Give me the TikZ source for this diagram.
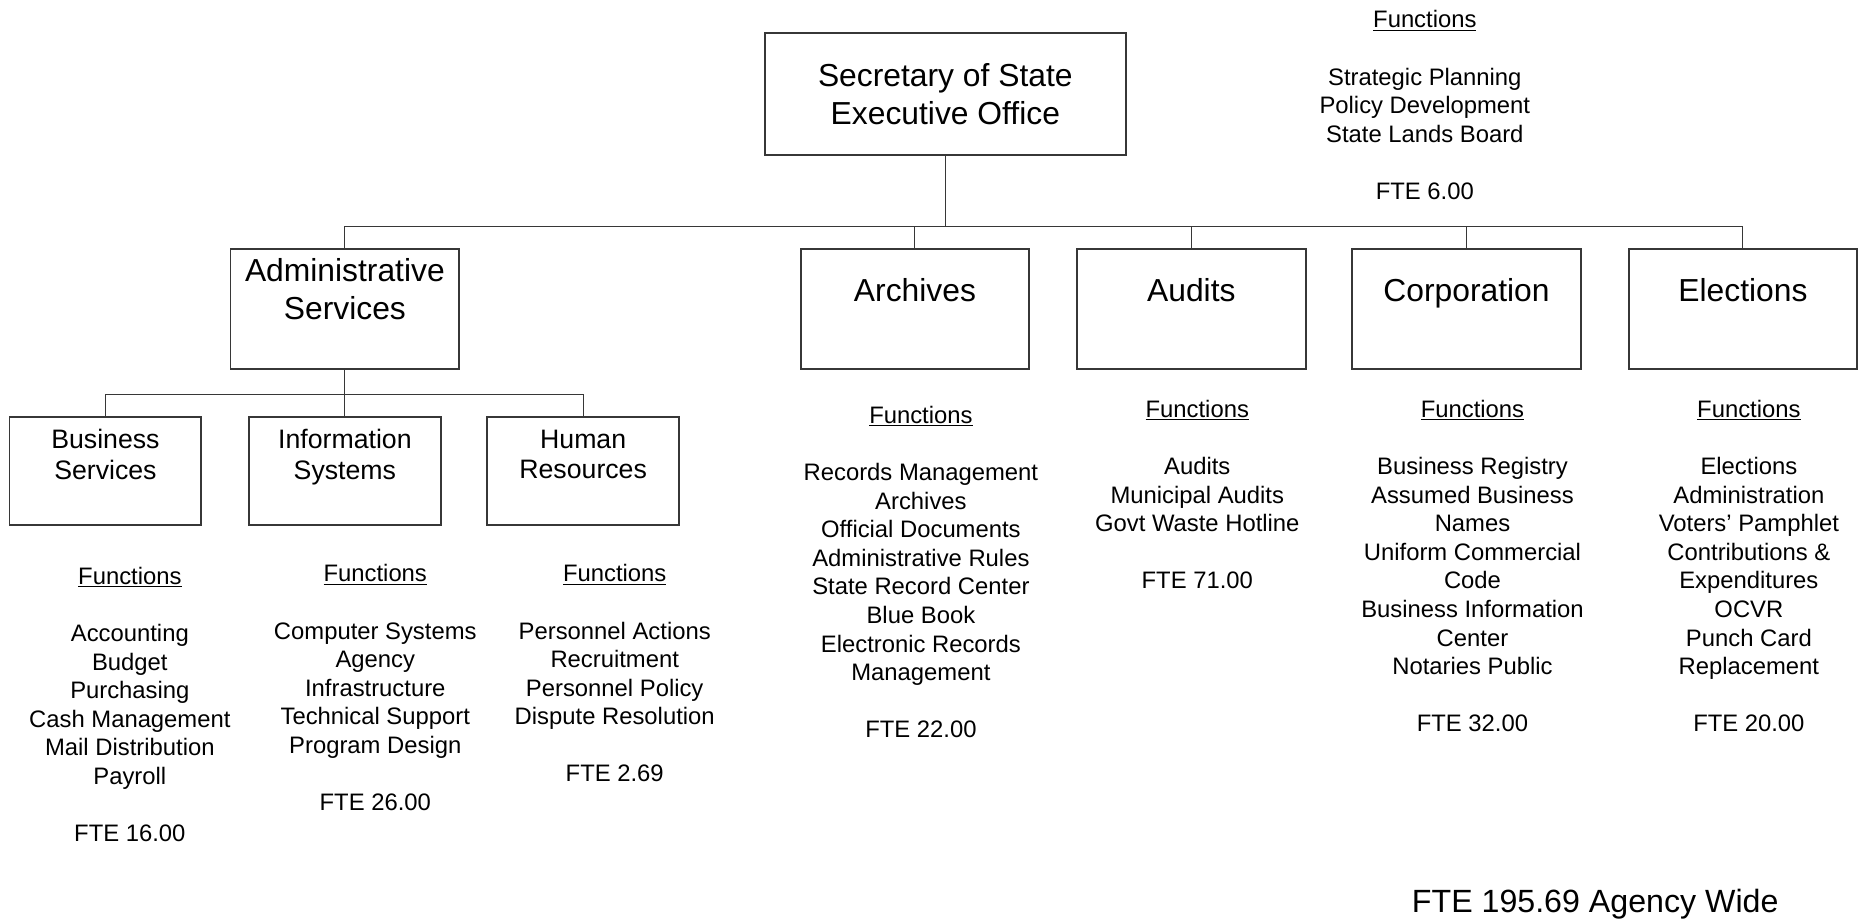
\documentclass[tikz,border=0pt]{standalone}
\usepackage{fontspec}
\setmainfont{Liberation Sans}
\usetikzlibrary{positioning}
\definecolor{linecol}{RGB}{55,55,55}
\newcommand{\fnhead}{\underline{Functions}}

\begin{document}
\begin{tikzpicture}[x=1pt, y=-1pt,
  unit/.style={draw=linecol, line width=1.6pt, minimum width=192pt,
               minimum height=101pt, inner sep=0pt},
  subunit/.style={unit, minimum width=161pt, minimum height=91pt},
  title/.style={align=center, inner sep=0pt, font=\fontsize{26.7}{32}\selectfont},
  onetitle/.style={title, text height=19.5pt, text depth=0pt},
  subtitle/.style={align=center, inner sep=0pt, text depth=0pt,
                   font=\fontsize{22.4}{25.5}\selectfont},
  duties/.style={align=center, inner sep=0pt, anchor=north,
                 font=\fontsize{20}{24}\selectfont},
  link/.style={draw=linecol, line width=0.9pt},
]
  \useasboundingbox (0,0) rectangle (1568,771);

  \node[unit, title, minimum width=303pt, minimum height=102pt] (sos) at (793.5,79)
        {Secretary of State\\Executive Office};

  \node[unit] (admin) at (289.5,259.5) {};
  \node[unit] (arch) at (768,259.5) {};
  \node[unit, right=38.4pt of arch] (audit) {};
  \node[unit, right=37.4pt of audit] (corp) {};
  \node[unit, right=38.4pt of corp] (elec) {};

  \node[title] (admin-t) at ([yshift=16.5pt]admin.center) {Administrative\\Services};
  \node[onetitle] (arch-t) at ([yshift=16.5pt]arch.center) {Archives};
  \node[onetitle] (audit-t) at ([yshift=16.5pt]audit.center) {Audits};
  \node[onetitle] (corp-t) at ([yshift=16.5pt]corp.center) {Corporation};
  \node[onetitle] (elec-t) at ([yshift=16.5pt]elec.center) {Elections};

  \node[subunit] (bus) at (88.5,395.5) {};
  \node[subunit, right=38.4pt of bus] (info) {};
  \node[subunit, right=37.4pt of info] (hr) {};

  \node[subtitle] (bus-t) at ([yshift=14pt]bus.center) {Business\\Services};
  \node[subtitle] (info-t) at ([yshift=14pt]info.center) {Information\\Systems};
  \node[subtitle] (hr-t) at ([yshift=14pt]hr.center) {Human\\Resources};

  \foreach \u in {admin,arch,audit,corp,elec}
    \draw[link] (sos.south) -- ++(0,59) -| (\u.north);
  \foreach \u in {bus,info,hr}
    \draw[link] (admin.south) -- ++(0,20) -| (\u.north);

  \node[duties] (sos-f) at (1196,8.7) {\fnhead\\[24pt]
        Strategic Planning\\Policy Development\\State Lands Board\\[24pt]FTE 6.00};
  \node[duties] (bus-f) at (109,475.7) {\fnhead\\[24pt]
        Accounting\\Budget\\Purchasing\\Cash Management\\Mail Distribution\\Payroll\\[24pt]
        FTE 16.00};
  \node[duties] (info-f) at (315,473.7) {\fnhead\\[24pt]
        Computer Systems\\Agency\\Infrastructure\\Technical Support\\Program Design\\[24pt]
        FTE 26.00};
  \node[duties] (hr-f) at (516,473.7) {\fnhead\\[24pt]
        Personnel Actions\\Recruitment\\Personnel Policy\\Dispute Resolution\\[24pt]
        FTE 2.69};
  \node[duties] (arch-f) at (773,340.7) {\fnhead\\[24pt]
        Records Management\\Archives\\Official Documents\\Administrative Rules\\
        State Record Center\\Blue Book\\Electronic Records\\Management\\[24pt]
        FTE 22.00};
  \node[duties] (audit-f) at (1005,335.7) {\fnhead\\[24pt]
        Audits\\Municipal Audits\\Govt Waste Hotline\\[24pt]FTE 71.00};
  \node[duties] (corp-f) at (1236,335.7) {\fnhead\\[24pt]
        Business Registry\\Assumed Business\\Names\\Uniform Commercial\\Code\\
        Business Information\\Center\\Notaries Public\\[24pt]FTE 32.00};
  \node[duties] (elec-f) at (1468,335.7) {\fnhead\\[24pt]
        Elections\\Administration\\Voters’ Pamphlet\\Contributions \&\\Expenditures\\
        OCVR\\Punch Card\\Replacement\\[24pt]FTE 20.00};

  \node[font=\fontsize{27}{32}\selectfont, inner sep=0pt] (total) at (1339,759)
        {FTE 195.69 Agency Wide};
\end{tikzpicture}
\end{document}
